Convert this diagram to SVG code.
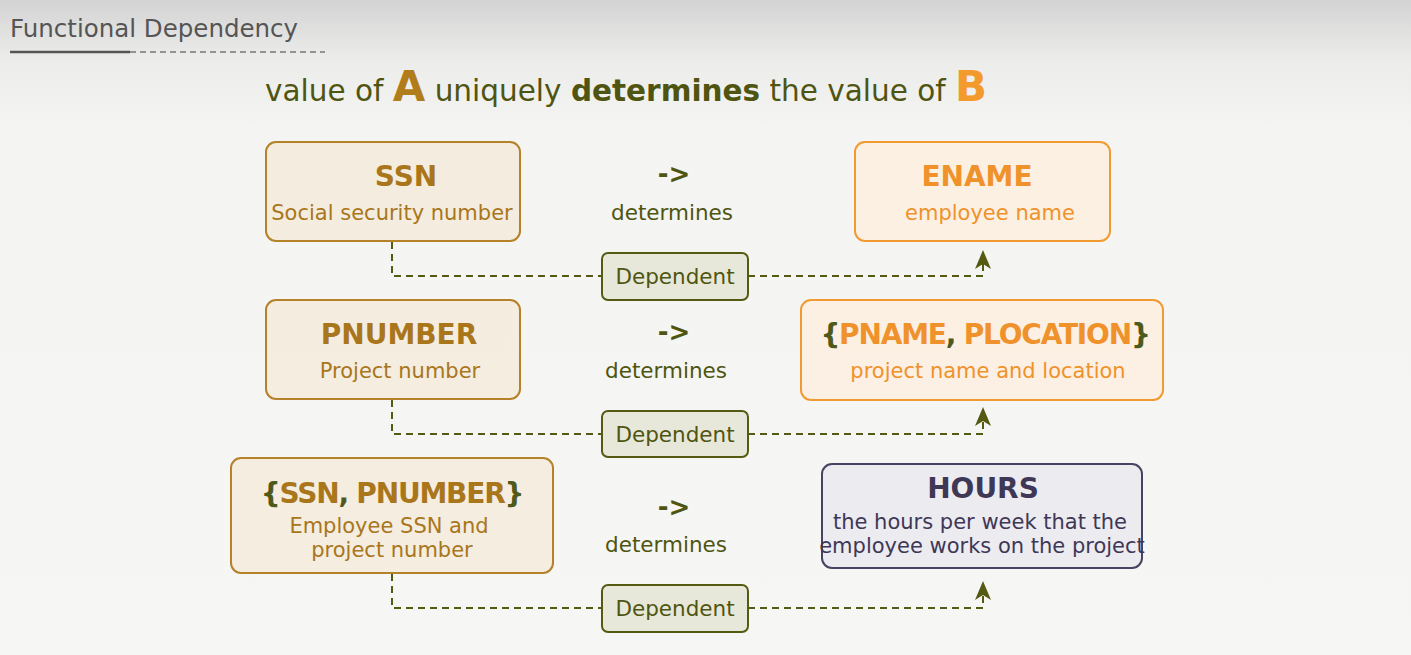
<svg xmlns="http://www.w3.org/2000/svg" width="1411" height="655" viewBox="0 0 1411 655">
<defs>
<linearGradient id="bg" x1="0" y1="0" x2="0" y2="1">
<stop offset="0" stop-color="#d3d3d3"/>
<stop offset="0.09" stop-color="#ececeb"/>
<stop offset="0.2" stop-color="#f4f4f2"/>
<stop offset="1" stop-color="#f6f6f4"/>
</linearGradient>
<marker id="arr" markerWidth="20" markerHeight="20" refX="18" refY="10" orient="auto" markerUnits="userSpaceOnUse" viewBox="0 0 20 20">
<path d="M20 10 L1 2 L6 10 L1 18 Z" fill="#555a12"/>
</marker>
<style>
text{font-family:"DejaVu Sans","Liberation Sans",sans-serif}
.a{fill:#f3ebdc;fill-opacity:0.85;stroke:#b5822a;stroke-width:2}
.b{fill:#fbeedf;fill-opacity:0.85;stroke:#f29a32;stroke-width:2}
.c{fill:#ecebf0;stroke:#4a4262;stroke-width:2}
.d{fill:#e8e8da;stroke:#555a12;stroke-width:2}
.ta{fill:#a9761b;font-weight:bold;font-size:28px;text-anchor:middle}
.sa{fill:#a9761b;font-size:21px;text-anchor:middle}
.tb{fill:#f0922b;font-weight:bold;font-size:28px;text-anchor:middle}
.sb{fill:#f0922b;font-size:21px;text-anchor:middle}
.tc{fill:#3f3756;font-weight:bold;font-size:28px;text-anchor:middle}
.sc{fill:#3f3756;font-size:21px;text-anchor:middle}
.td{fill:#4f5510;font-size:21.5px;text-anchor:middle}
.ar{fill:#4f5510;font-weight:bold;font-size:26px;text-anchor:middle}
.br{fill:#4f5a1a}
.ln{fill:none;stroke:#555a12;stroke-width:2;stroke-dasharray:7 5}
</style>
</defs>
<rect width="1411" height="655" fill="url(#bg)"/>
<g id="title">
<text x="10" y="37" font-size="24.5" fill="#555">Functional Dependency</text>
<line x1="10" y1="52" x2="130" y2="52" stroke="#555" stroke-width="2.5"/>
<line x1="130" y1="52" x2="325" y2="52" stroke="#777" stroke-width="1.5" stroke-dasharray="6 4"/>
</g>
<g id="subtitle">
<text x="265" y="101" font-size="29.5" fill="#4f5510">value of <tspan fill="#b07d1a" font-weight="bold" font-size="42">A</tspan> uniquely <tspan font-weight="bold">determines</tspan> the value of <tspan fill="#f39a2c" font-weight="bold" font-size="42">B</tspan></text>
</g>
<g id="connectors">
<path class="ln" d="M392 242 V276 H602"/>
<path class="ln" d="M748 276 H983 V252" marker-end="url(#arr)"/>
<path class="ln" d="M392 400 V434 H602"/>
<path class="ln" d="M748 434 H983 V409" marker-end="url(#arr)"/>
<path class="ln" d="M392 574 V608 H602"/>
<path class="ln" d="M748 608 H983 V583" marker-end="url(#arr)"/>
</g>
<g id="ssn">
<rect class="a" x="266" y="142" width="254" height="99" rx="10"/>
<text class="ta" x="406" y="186">SSN</text>
<text class="sa" x="392" y="220">Social security number</text>
</g>
<g id="rel1">
<text class="ar" x="674" y="183">-&gt;</text>
<text class="td" x="672" y="220">determines</text>
</g>
<g id="ename">
<rect class="b" x="855" y="142" width="255" height="99" rx="10"/>
<text class="tb" x="977" y="186">ENAME</text>
<text class="sb" x="990" y="220">employee name</text>
</g>
<g id="dep1">
<rect class="d" x="602" y="253" width="146" height="47" rx="6"/>
<text class="td" x="675" y="284">Dependent</text>
</g>
<g id="pnumber">
<rect class="a" x="266" y="300" width="254" height="99" rx="10"/>
<text class="ta" x="399" y="344">PNUMBER</text>
<text class="sa" x="400" y="378">Project number</text>
</g>
<g id="rel2">
<text class="ar" x="674" y="341">-&gt;</text>
<text class="td" x="666" y="378">determines</text>
</g>
<g id="pname">
<rect class="b" x="801" y="300" width="362" height="100" rx="10"/>
<text class="tb" x="985" y="344" font-size="26" letter-spacing="-1.2"><tspan class="br">{</tspan>PNAME<tspan class="br">,</tspan> PLOCATION<tspan class="br">}</tspan></text>
<text class="sb" x="988" y="378">project name and location</text>
</g>
<g id="dep2">
<rect class="d" x="602" y="411" width="146" height="46" rx="6"/>
<text class="td" x="675" y="442">Dependent</text>
</g>
<g id="ssnpnumber">
<rect class="a" x="231" y="458" width="322" height="115" rx="10"/>
<text class="ta" x="392" y="503" font-size="26" letter-spacing="-1.2"><tspan class="br">{</tspan>SSN<tspan class="br">,</tspan> PNUMBER<tspan class="br">}</tspan></text>
<text class="sa" x="389" y="533">Employee SSN and</text>
<text class="sa" x="392" y="557">project number</text>
</g>
<g id="rel3">
<text class="ar" x="674" y="516">-&gt;</text>
<text class="td" x="666" y="552">determines</text>
</g>
<g id="hours">
<rect class="c" x="822" y="464" width="320" height="104" rx="10"/>
<text class="tc" x="983" y="498">HOURS</text>
<text class="sc" x="980" y="529">the hours per week that the</text>
<text class="sc" x="982" y="553">employee works on the project</text>
</g>
<g id="dep3">
<rect class="d" x="602" y="585" width="146" height="47" rx="6"/>
<text class="td" x="675" y="616" font-size="23">Dependent</text>
</g>
</svg>
